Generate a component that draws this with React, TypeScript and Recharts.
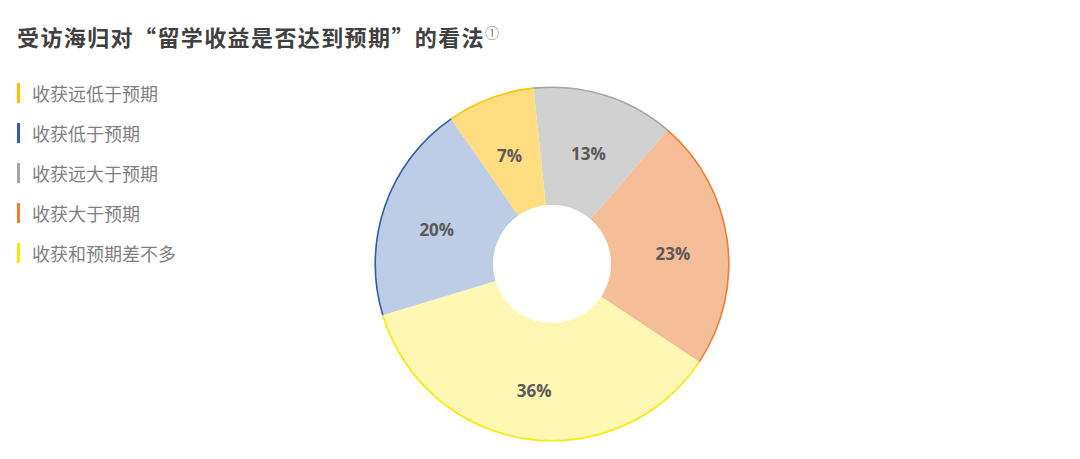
import { PieChart, Pie, Cell } from 'recharts';

// pie order, clockwise from the top
const categories = ['收获远大于预期', '收获大于预期', '收获和预期差不多', '收获低于预期', '收获远低于预期'];
const shares = [13, 23, 36, 20, 8];
const labels = ['13%', '23%', '36%', '20%', '7%'];
const legendOrder = ['收获远低于预期', '收获低于预期', '收获远大于预期', '收获大于预期', '收获和预期差不多'];

const FILLS = ['#D1D1D1', '#F5BD98', '#FDF7B3', '#BDCDE6', '#FFDD80'];
const EDGES = ['#A5A5A5', '#ED7D31', '#FFE600', '#2E5EAA', '#FFC000'];

const data = categories.map((name, i) => ({ name, value: shares[i], label: labels[i] }));
const RADIAN = Math.PI / 180;

function SliceLabel(props: any) {
  const { cx, cy, midAngle, index } = props;
  const r = 122;
  const x = cx + r * Math.cos(-midAngle * RADIAN);
  const y = cy + r * Math.sin(-midAngle * RADIAN) + 6;
  return (
    <text x={x} y={y} textAnchor="middle" dominantBaseline="central"
      fill="#595959" fontSize={17} fontWeight={700} fontFamily="'Open Sans', sans-serif">
      {data[index].label}
    </text>
  );
}

function SideLegend() {
  return (
    <div style={{ position: 'absolute', left: 17, top: 73, fontFamily: "'Noto Sans CJK SC', sans-serif" }}>
      {legendOrder.map((name) => {
        const i = categories.indexOf(name);
        return (
          <div key={name} style={{ display: 'flex', alignItems: 'center', height: 40 }}>
            <span style={{ width: 3, height: 20, background: EDGES[i], marginRight: 12 }} />
            <span style={{ fontSize: 18, color: '#7F7F7F' }}>{name}</span>
          </div>
        );
      })}
    </div>
  );
}

export default function App() {
  return (
    <div style={{ position: 'absolute', left: 0, top: 0, width: 1080, height: 459, background: '#fff' }}>
      <PieChart width={1080} height={459} margin={{ top: 0, right: 0, bottom: 0, left: 0 }}
        style={{ position: 'absolute', left: 0, top: 0 }}>
        <Pie data={data} dataKey="value" cx={552} cy={264} innerRadius={59} outerRadius={177}
          startAngle={96} endAngle={-264} stroke="none" labelLine={false} label={SliceLabel}
          isAnimationActive={false}>
          {data.map((_, i) => <Cell key={i} fill={FILLS[i]} />)}
        </Pie>
        <Pie data={data} dataKey="value" cx={552} cy={264} innerRadius={176} outerRadius={177.6}
          startAngle={96} endAngle={-264} stroke="none" legendType="none" isAnimationActive={false}>
          {data.map((_, i) => <Cell key={i} fill={EDGES[i]} />)}
        </Pie>
      </PieChart>
      <div style={{
        position: 'absolute', left: 17, top: 20, fontSize: 22, fontWeight: 700, color: '#404040',
        letterSpacing: 1.4, fontFamily: "'Noto Sans CJK SC', sans-serif", whiteSpace: 'nowrap'
      }}>
        受访海归对“留学收益是否达到预期”的看法<sup style={{ fontSize: 14, fontWeight: 400, color: '#7F7F7F' }}>①</sup>
      </div>
      <SideLegend />
    </div>
  );
}
